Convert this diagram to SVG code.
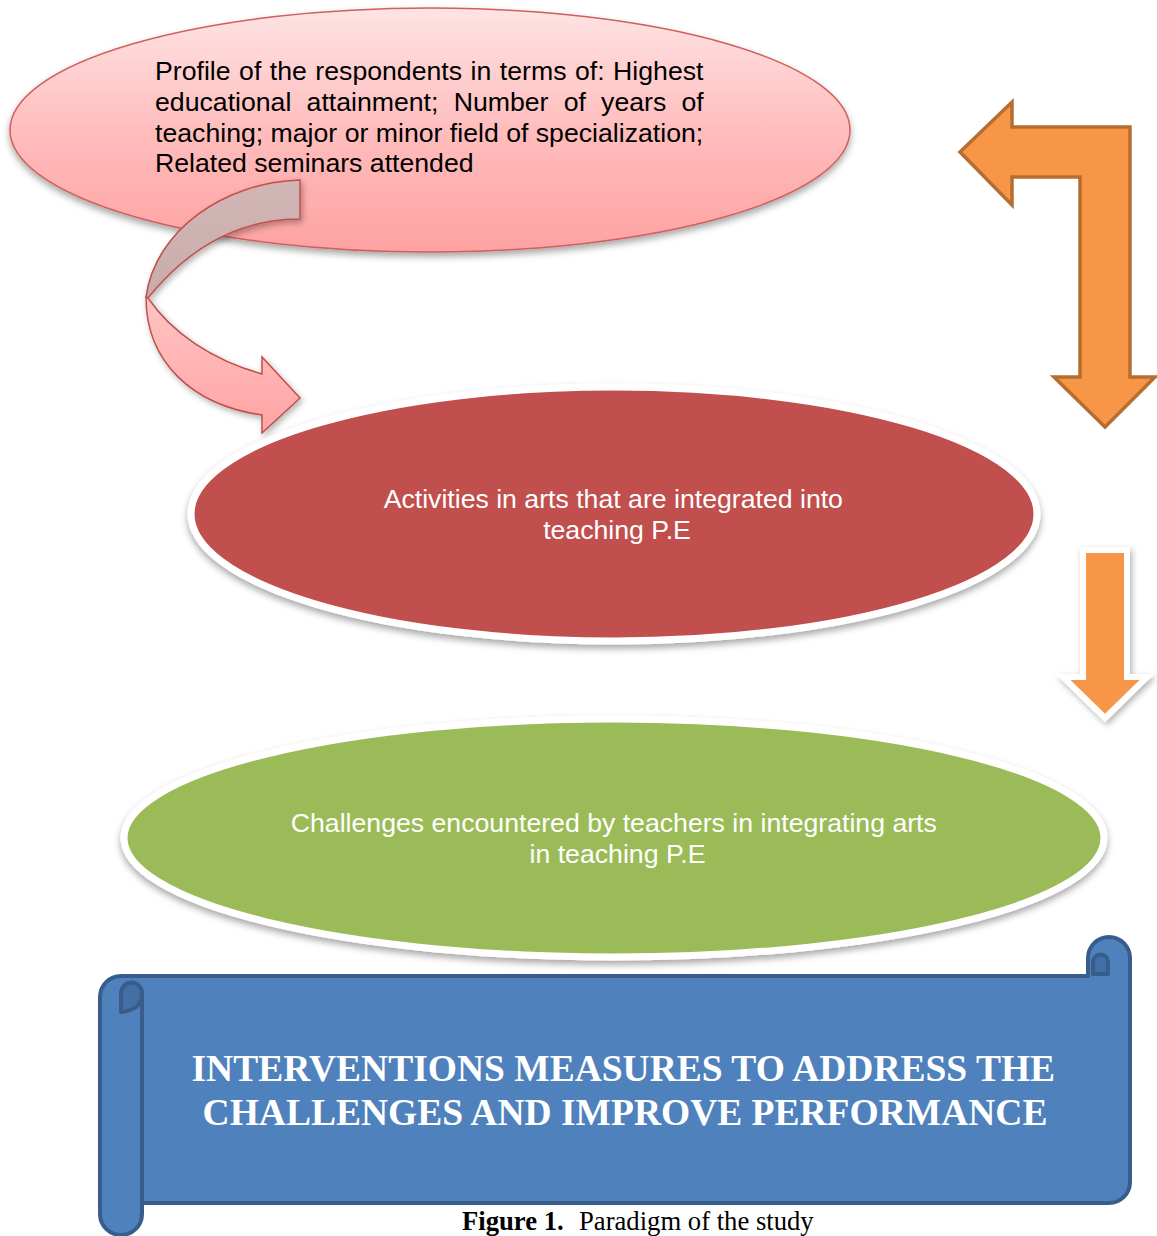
<svg xmlns="http://www.w3.org/2000/svg" width="1157" height="1236" viewBox="0 0 1157 1236">
<defs>
<linearGradient id="gPink" x1="0" y1="0" x2="0" y2="1">
<stop offset="0" stop-color="#fee4e4"/>
<stop offset="0.5" stop-color="#ffbdbd"/>
<stop offset="1" stop-color="#ffa2a2"/>
</linearGradient>
<linearGradient id="gBand" x1="0" y1="0" x2="0" y2="1">
<stop offset="0" stop-color="#ffc4c4"/>
<stop offset="1" stop-color="#ffa4a4"/>
</linearGradient>
<linearGradient id="gBack" x1="0" y1="0" x2="0" y2="1">
<stop offset="0" stop-color="#d2b6b6"/>
<stop offset="1" stop-color="#c9abab"/>
</linearGradient>
<filter id="sh" x="-10%" y="-10%" width="120%" height="130%">
<feDropShadow dx="0" dy="4" stdDeviation="3.5" flood-color="#000" flood-opacity="0.35"/>
</filter>
<filter id="shs" x="-20%" y="-20%" width="140%" height="140%">
<feDropShadow dx="2" dy="3" stdDeviation="3" flood-color="#000" flood-opacity="0.3"/>
</filter>
</defs>
<style>
.sans{font-family:"Liberation Sans",Arial,sans-serif;font-size:26.67px}
.wt{fill:#ffffff}
.ser{font-family:"Liberation Serif","Times New Roman",serif}
.orange{fill:#f79646;stroke:#b66d31;stroke-width:3.5;stroke-linejoin:miter}
.scroll{fill:#4f81bd;stroke:#385d8a;stroke-width:4;stroke-linejoin:round}
.curl{fill:#416fa6;stroke:#385d8a;stroke-width:4;stroke-linejoin:round}
</style>

<g id="node-profile">
<ellipse cx="430" cy="130" rx="420" ry="122" fill="url(#gPink)" stroke="#d0605c" stroke-width="1.5" filter="url(#sh)"/>
<text class="sans" fill="#000">
<tspan x="155" y="80" word-spacing="1.1">Profile of the respondents in terms of: Highest</tspan>
<tspan x="155" y="111" word-spacing="7.8">educational attainment; Number of years of</tspan>
<tspan x="155" y="141.5">teaching; major or minor field of specialization;</tspan>
<tspan x="155" y="172">Related seminars attended</tspan>
</text>
</g>

<g id="connectors">
<g id="curved-arrow" filter="url(#shs)" stroke="#c0504d" stroke-width="1.5" stroke-linejoin="miter">
<path d="M300,180 C225,182 155,230 146,297 L148,298 C190,246 240,219 300,219 Z" fill="url(#gBack)"/>
<path d="M146,297 C146,362 192,405 262,415 L262,433 L300,398 L262,357 L262,374 C212,360 172,333 148,298 Z" fill="url(#gBand)"/>
</g>
<path id="bent-arrow" class="orange" d="M960,152 L1012,102 L1012,127 L1130,127 L1130,377 L1155,377 L1105,427 L1054,377 L1080,377 L1080,177 L1012,177 L1012,205 Z"/>
<path id="down-arrow" d="M1083,550 L1127,550 L1127,677 L1147,677 L1105,718 L1063,677 L1083,677 Z" fill="#f79646" stroke="#ffffff" stroke-width="6" stroke-linejoin="miter" filter="url(#shs)"/>
</g>

<g id="node-activities">
<ellipse cx="614" cy="514" rx="423" ry="127" fill="#c0504d" stroke="#ffffff" stroke-width="7" filter="url(#sh)"/>
<text class="sans wt" text-anchor="middle">
<tspan x="617" y="508">Activities in arts that are integrated into</tspan>
<tspan x="617" y="538.5">teaching P.E</tspan>
</text>
</g>

<g id="node-challenges">
<ellipse cx="614" cy="838" rx="490" ry="119" fill="#9bbb59" stroke="#ffffff" stroke-width="7" filter="url(#sh)"/>
<text class="sans wt" text-anchor="middle">
<tspan x="617.5" y="832">Challenges encountered by teachers in integrating arts</tspan>
<tspan x="617.5" y="862.5">in teaching P.E</tspan>
</text>
</g>

<g id="node-interventions">
<path class="scroll" d="M100,997 A21,21 0 0 1 121,976 L1088,976 L1088,958 A21,21 0 0 1 1130,958 L1130,1182 A21,21 0 0 1 1109,1203 L142,1203 L142,1214 A21,21 0 0 1 100,1214 Z"/>
<path class="scroll" d="M142,997 L142,1203"/>
<path class="curl" d="M121,1012 L121,993 A10.5,10.5 0 0 1 142,993 L142,997 Q140,1010 121,1012 Z"/>
<path class="curl" d="M1093,974 L1093,962 A7.5,7.5 0 0 1 1108,962 L1108,974 Z"/>
<text class="ser wt" font-weight="bold" font-size="37.5" text-anchor="middle">
<tspan x="628" y="1081">INTERVENTIONS MEASURES TO ADDRESS THE</tspan>
<tspan x="625" y="1125">CHALLENGES AND IMPROVE PERFORMANCE</tspan>
</text>
</g>

<text id="caption" class="ser" font-size="26.67" fill="#000" y="1230"><tspan x="462" font-weight="bold">Figure 1.</tspan><tspan x="579">Paradigm of the study</tspan></text>
</svg>
